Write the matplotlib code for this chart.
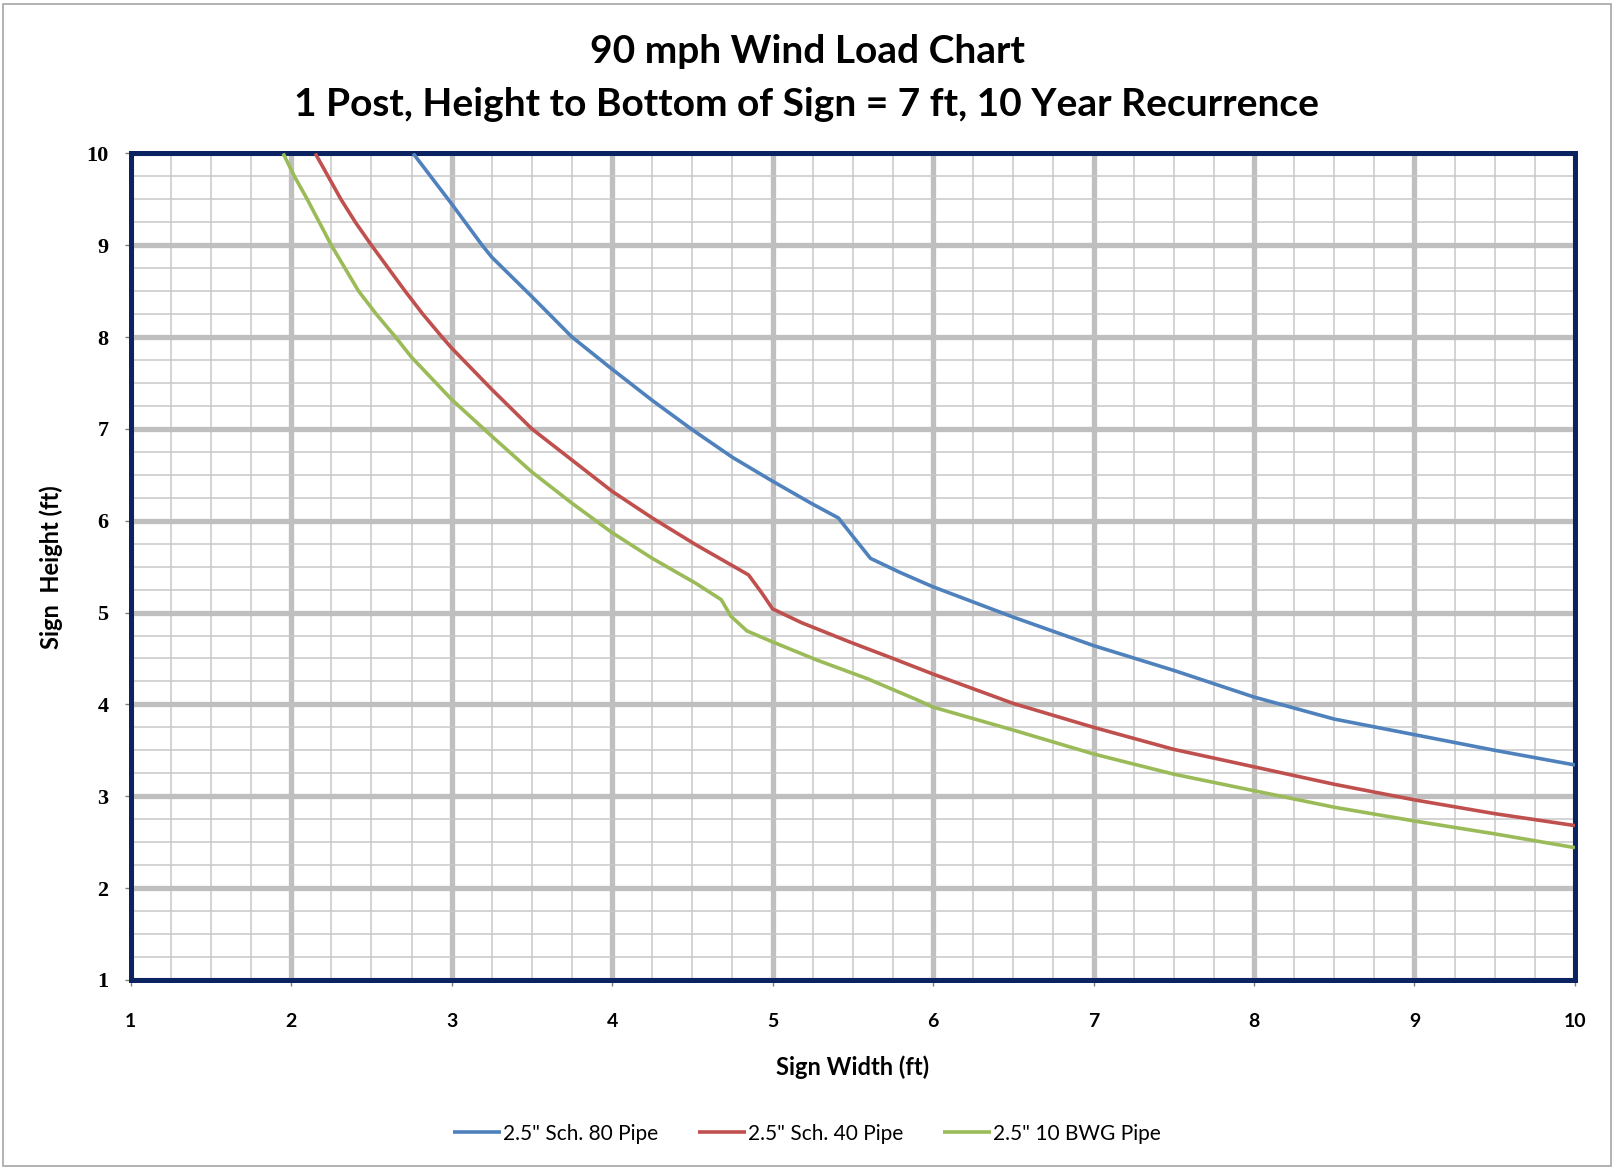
import matplotlib
matplotlib.use('Agg')
import matplotlib.pyplot as plt
from matplotlib.patches import Rectangle
from matplotlib.ticker import MultipleLocator

# (sign width ft -> max sign height ft)
sch80_width = [2.76, 3.0, 3.19, 3.25, 3.5, 3.75, 4.0, 4.25, 4.5, 4.75, 5.0,
               5.24, 5.41, 5.5, 5.61, 5.79, 6.0, 6.5, 7.0, 7.5, 8.0, 8.25,
               8.5, 9.0, 9.5, 10.0]
sch80_height = [10.0, 9.45, 9.0, 8.87, 8.44, 8.0, 7.65, 7.31, 6.99, 6.69,
                6.43, 6.19, 6.03, 5.83, 5.59, 5.44, 5.28, 4.95, 4.64, 4.37,
                4.08, 3.96, 3.84, 3.67, 3.50, 3.34]

sch40_width = [2.15, 2.23, 2.31, 2.40, 2.50, 2.605, 2.71, 2.82, 2.94, 3.0,
               3.25, 3.5, 3.75, 4.0, 4.25, 4.52, 4.76, 4.85, 4.93, 5.0, 5.18,
               5.48, 5.75, 6.0, 6.5, 7.0, 7.5, 8.0, 8.5, 9.0, 9.5, 10.0]
sch40_height = [10.0, 9.75, 9.5, 9.25, 9.0, 8.75, 8.5, 8.25, 8.0, 7.88,
                7.43, 7.0, 6.66, 6.32, 6.03, 5.74, 5.50, 5.41, 5.22, 5.04,
                4.89, 4.68, 4.50, 4.33, 4.01, 3.75, 3.51, 3.32, 3.13, 2.96,
                2.81, 2.68]

bwg10_width = [1.95, 2.02, 2.10, 2.175, 2.25, 2.335, 2.42, 2.53, 2.65, 2.75,
               3.0, 3.25, 3.5, 3.75, 4.0, 4.25, 4.52, 4.68, 4.74, 4.84, 5.0,
               5.28, 5.59, 5.9, 6.0, 6.5, 7.0, 7.5, 8.0, 8.5, 9.0, 9.5, 10.0]
bwg10_height = [10.0, 9.75, 9.5, 9.25, 9.0, 8.75, 8.5, 8.25, 8.0, 7.78,
                7.32, 6.92, 6.53, 6.19, 5.87, 5.59, 5.32, 5.14, 4.96, 4.80,
                4.68, 4.48, 4.28, 4.05, 3.97, 3.72, 3.46, 3.24, 3.06, 2.88,
                2.73, 2.59, 2.44]

series_labels = ['2.5" Sch. 80 Pipe', '2.5" Sch. 40 Pipe', '2.5" 10 BWG Pipe']

COLORS = {
    'sch80': '#4F81BD',
    'sch40': '#C0504D',
    'bwg10': '#9BBB59',
    'frame': '#0B2461',
    'major': '#BFBFBF',
    'minor': '#C8C8C8',
}

SANS = 'Lato'
SERIF = 'Liberation Serif'

fig = plt.figure(figsize=(16.14, 11.70), dpi=100)
ax = fig.add_axes([0.081, 0.1625, 0.8948, 0.7064])

for x, y, key, label in [
    (sch80_width, sch80_height, 'sch80', series_labels[0]),
    (sch40_width, sch40_height, 'sch40', series_labels[1]),
    (bwg10_width, bwg10_height, 'bwg10', series_labels[2]),
]:
    ax.plot(x, y, color=COLORS[key], lw=2.6, label=label, zorder=3,
            solid_joinstyle='round', solid_capstyle='butt')

ax.set_xlim(1, 10)
ax.set_ylim(1, 10)
ax.xaxis.set_major_locator(MultipleLocator(1))
ax.yaxis.set_major_locator(MultipleLocator(1))
ax.xaxis.set_minor_locator(MultipleLocator(0.25))
ax.yaxis.set_minor_locator(MultipleLocator(0.25))

ax.grid(True, which='minor', color=COLORS['minor'], lw=1.1, zorder=0)
ax.grid(True, which='major', color=COLORS['major'], lw=3.8, zorder=1)
ax.set_axisbelow(True)

for spine in ax.spines.values():
    spine.set_color(COLORS['frame'])
    spine.set_linewidth(3.6)

ax.tick_params(which='major', length=4, width=1, color='#7F7F7F')
ax.tick_params(axis='x', which='major', labelsize=14, pad=20)
ax.tick_params(axis='y', which='major', labelsize=16, pad=12)
ax.tick_params(which='minor', length=0)
for lbl in ax.get_xticklabels():
    lbl.set_fontfamily(SANS)
    lbl.set_fontweight('bold')
for lbl in ax.get_yticklabels():
    lbl.set_fontfamily(SERIF)
    lbl.set_fontweight('bold')

ax.set_xlabel('Sign Width (ft)', fontfamily=SANS, fontweight='bold',
              fontsize=17, labelpad=18)
ax.set_ylabel('Sign  Height (ft)', fontfamily=SANS, fontweight='bold',
              fontsize=17, labelpad=17)

fig.text(0.5, 0.956, '90 mph Wind Load Chart', ha='center', va='center',
         fontfamily=SANS, fontweight='bold', fontsize=28)
fig.text(0.5, 0.911,
         '1 Post, Height to Bottom of Sign = 7 ft, 10 Year Recurrence',
         ha='center', va='center', fontfamily=SANS, fontweight='bold',
         fontsize=28)

fig.legend(loc='center', bbox_to_anchor=(0.5, 0.031), ncol=3, frameon=False,
           prop={'family': SANS, 'size': 15}, handlelength=2.3,
           handletextpad=0.1, columnspacing=1.9)

# thin chart-area border
fig.patches.append(Rectangle((0.002, 0.003), 0.996, 0.994,
                             transform=fig.transFigure, fill=False,
                             edgecolor='#A6A6A6', lw=1.2))

fig.savefig('out.png', dpi=100)
plt.close(fig)
